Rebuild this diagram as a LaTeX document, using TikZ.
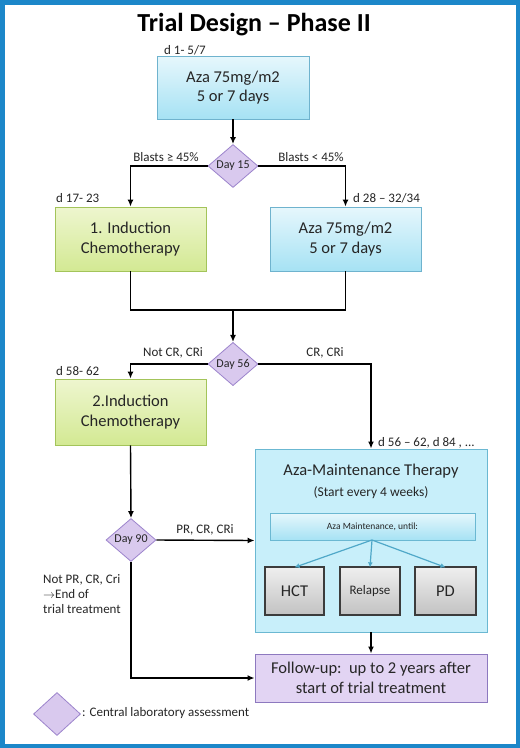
\documentclass[tikz,border=0pt]{standalone}
\usepackage{fontspec}
\setmainfont{Carlito}
\usetikzlibrary{shapes.geometric,arrows.meta}
\definecolor{frameblue}{HTML}{1C87C9}
\definecolor{bluetop}{HTML}{E6F7FC}
\definecolor{bluebot}{HTML}{A6E2F4}
\definecolor{blueborder}{HTML}{6FB3CE}
\definecolor{greentop}{HTML}{EEF6CF}
\definecolor{greenbot}{HTML}{D3E993}
\definecolor{greenborder}{HTML}{A3C45A}
\definecolor{purplefill}{HTML}{D9C9EE}
\definecolor{purpleborder}{HTML}{9C84CC}
\definecolor{maintfill}{HTML}{C8EFFA}
\definecolor{maintborder}{HTML}{6BB8D2}
\definecolor{graytop}{HTML}{EFEFEF}
\definecolor{graybot}{HTML}{C2C2C2}
\definecolor{grayborder}{HTML}{3C3C3C}
\definecolor{followfill}{HTML}{E2D4F3}
\definecolor{followborder}{HTML}{8D79BF}
\definecolor{tealarrow}{HTML}{4FA8C8}
\definecolor{txt}{HTML}{262626}
\tikzset{
  bluebox/.style={draw=blueborder, line width=0.8pt, top color=bluetop, bottom color=bluebot,
    align=center, font=\fontsize{16.5}{19.5}\selectfont, text=txt, inner sep=0pt},
  greenbox/.style={draw=greenborder, line width=0.8pt, top color=greentop, bottom color=greenbot,
    align=center, font=\fontsize{16.5}{19.5}\selectfont, text=txt, inner sep=0pt},
  dia/.style={diamond, draw=purpleborder, line width=0.8pt, fill=purplefill, inner sep=0pt,
    minimum width=50pt, minimum height=43pt, font=\fontsize{12}{14}\selectfont, text=txt},
  graybox/.style={draw=grayborder, line width=1.3pt, top color=graytop, bottom color=graybot,
    align=center, text=txt, inner sep=0pt, minimum height=48pt},
  lbl/.style={font=\fontsize{13}{15}\selectfont, text=txt, inner sep=0pt},
  conn/.style={line width=1.4pt, -{Latex[length=7pt,width=6pt]}},
  line/.style={line width=1.4pt},
  tconn/.style={line width=1.2pt, tealarrow, -{Latex[length=5pt,width=5pt]}}
}
\begin{document}
\begin{tikzpicture}[x=1pt,y=-1pt]
\useasboundingbox (0,0) rectangle (520,748);
\fill[white] (0,0) rectangle (520,748);
\draw[frameblue, line width=4.5pt] (2.25,2.25) rectangle (517.75,745.75);

\node[font=\bfseries\fontsize{26}{29}\selectfont, text=black] (title) at (254,25) {Trial Design -- Phase II};

% top box
\node[bluebox, minimum width=152pt, minimum height=63pt] (b1) at (233,87.5) {Aza 75mg/m2\\5 or 7 days};
\node[lbl, anchor=west] (l1) at (164,50) {d 1- 5/7};

\node[dia] (d15) at (233,166) {Day 15};

\node[greenbox, minimum width=151pt, minimum height=64pt] (g1) at (130.5,239) {1. Induction\\Chemotherapy};
\node[bluebox, minimum width=151pt, minimum height=64pt] (b2) at (345.5,239) {Aza 75mg/m2\\5 or 7 days};

\node[lbl, anchor=west] (l17) at (56,198) {d 17- 23};
\node[lbl, anchor=west] (l28) at (353,198) {d 28 -- 32/34};
\node[lbl] (lbgt) at (166,157) {Blasts ≥ 45\%};
\node[lbl] (lblt) at (311,157) {Blasts < 45\%};

\draw[conn] (b1.south) -- (d15.north);
\draw[conn] (d15.west) -| (g1.north);
\draw[conn] (d15.east) -| (b2.north);

\coordinate (j) at (233,310);
\node[dia] (d56) at (233,364) {Day 56};
\draw[line] (g1.south) |- (j) -| (b2.south);
\draw[conn] (j) -- (d56.north);

\node[greenbox, minimum width=151pt, minimum height=66pt] (g2) at (130.5,412) {2.Induction\\Chemotherapy};
\node[lbl, anchor=west] (l58) at (56,371) {d 58- 62};
\node[lbl] (lncr) at (173,353) {Not CR, CRi};
\node[lbl] (lcr) at (325,353) {CR, CRi};

% maintenance
\node[draw=maintborder, line width=0.9pt, fill=maintfill, minimum width=232pt, minimum height=183pt, inner sep=0pt] (m) at (371,540.5) {};
\node[font=\fontsize{16.5}{19.5}\selectfont, text=txt, inner sep=0pt] (mt) at (371,471) {Aza-Maintenance Therapy};
\node[font=\fontsize{13.5}{16}\selectfont, text=txt, inner sep=0pt] (ms) at (371,493) {(Start every 4 weeks)};
\node[draw=maintborder, line width=0.8pt, top color=bluetop, bottom color=bluebot, minimum width=205pt, minimum height=27pt, inner sep=0pt, font=\fontsize{9.5}{11}\selectfont, text=txt] (bar) at (372.5,526.5) {Aza Maintenance, until:};
\node[graybox, minimum width=59pt, font=\fontsize{16.5}{19.5}\selectfont] (hct) at (294.5,591) {HCT};
\node[graybox, minimum width=60pt, font=\fontsize{13}{15}\selectfont] (rel) at (370,591) {Relapse};
\node[graybox, minimum width=61pt, font=\fontsize{16.5}{19.5}\selectfont] (pd) at (445.5,591) {PD};
\coordinate (bs) at (372,540);
\draw[tconn] (bs) -- ([yshift=-1pt]hct.north);
\draw[tconn] (bs) -- ([yshift=-1pt]rel.north);
\draw[tconn] (bs) -- ([yshift=-1pt]pd.north);

\node[lbl, anchor=west] (l56) at (378,443) {d 56 -- 62, d 84 , ...};
\draw[conn] (d56.west) -| (g2.north);
\draw[conn] (d56.east) -| (m.north);

\node[dia] (d90) at (131,540) {Day 90};
\draw[conn] (g2.south) -- (d90.north);
\draw[conn] (d90.east) -- (m.west);
\node[lbl] (lpr) at (205,530) {PR, CR, CRi};

\node[draw=followborder, line width=0.9pt, fill=followfill, minimum width=232pt, minimum height=48pt, inner sep=0pt, align=center, font=\fontsize{16.5}{19.5}\selectfont, text=txt] (fu) at (371,678) {Follow-up:\ \ up to 2 years after\\start of trial treatment};
\draw[conn] (m.south) -- (fu.north);
\draw[conn] (d90.south) |- (fu.west);
\node[lbl, anchor=north west, align=left] (lnot) at (43,574) {Not PR, CR, Cri\\$\rightarrow$End of\\trial treatment};

% legend
\node[dia, minimum width=47pt, minimum height=43pt] (leg) at (57,714) {};
\node[lbl, anchor=west] (legt) at (82,713) {: Central laboratory assessment};
\end{tikzpicture}
\end{document}
